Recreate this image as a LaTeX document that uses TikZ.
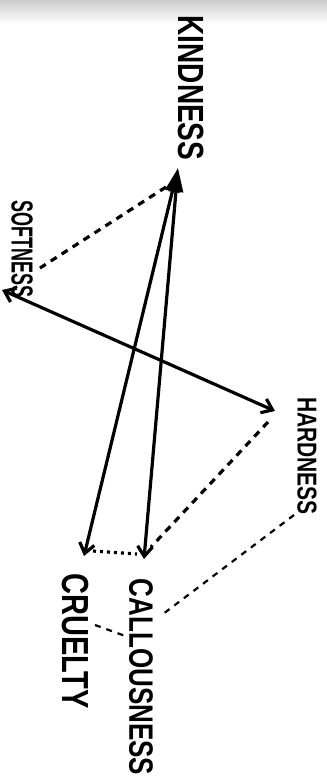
\documentclass[tikz,border=0pt]{standalone}
\usepackage{fontspec}
\setmainfont{Liberation Sans}
\usetikzlibrary{arrows.meta}
\tikzset{
  word/.style={rotate=-90,yscale=1.3,inner sep=0pt},
  stroke/.style={line width=3.2pt,line cap=round},
  dashline/.style={line width=3.2pt,dash pattern=on 7pt off 6pt},
  thindash/.style={line width=2.2pt,dash pattern=on 6pt off 6pt},
  dotline/.style={line width=3.2pt,dash pattern=on 3pt off 4pt},
  barb/.tip={Straight Barb[length=10pt,width=15pt,line width=3.2pt]},
  head/.tip={Triangle[length=24pt,width=14pt]}
}
\begin{document}
\begin{tikzpicture}[x=1pt,y=-1pt]
\useasboundingbox (0,0) rectangle (327,780);
\shade[top color=black!20,bottom color=white] (0,0) rectangle (327,24);

% the five words
\node[word,font=\bfseries\fontsize{28}{28}\selectfont] (kindness) at (191,88) {KINDNESS};
\node[word,yscale=1.3,font=\bfseries\fontsize{18}{18}\selectfont] (softness) at (22,249) {SOFTNESS};
\node[word,font=\bfseries\fontsize{21}{21}\selectfont] (hardness) at (307,456) {HARDNESS};
\node[word,font=\bfseries\fontsize{29}{29}\selectfont] (cruelty) at (75,641) {CRUELTY};
\node[word,font=\bfseries\fontsize{26}{26}\selectfont] (callousness) at (141,677) {CALLOUSNESS};

% arrow tips
\coordinate (kind) at (178,168);
\coordinate (cruel) at (84,556);
\coordinate (callous) at (144,559);
\coordinate (soft) at (2,290);
\coordinate (hard) at (275,411);

\draw[stroke,head-barb] (kind) -- (cruel);
\draw[stroke,head-barb] (kind) -- (callous);
\draw[stroke,barb-barb] (soft) -- (hard);

% dashed links
\coordinate (kinddash) at (166,187);
\coordinate (softdash) at (40,268);
\coordinate (harddash) at (268,422);
\coordinate (calldash) at (151,547);
\coordinate (crueldot) at (93,551);
\coordinate (calldot) at (137,554);
\coordinate (hardword) at (294,515);
\coordinate (callword) at (163,614);
\coordinate (crueword) at (95,625);
\coordinate (callword2) at (128,637);

\draw[dashline] (kinddash) -- (softdash);
\draw[dashline] (harddash) -- (calldash);
\draw[dotline] (crueldot) -- (calldot);
\draw[thindash] (hardword) -- (callword);
\draw[thindash] (crueword) -- (callword2);
\end{tikzpicture}
\end{document}
